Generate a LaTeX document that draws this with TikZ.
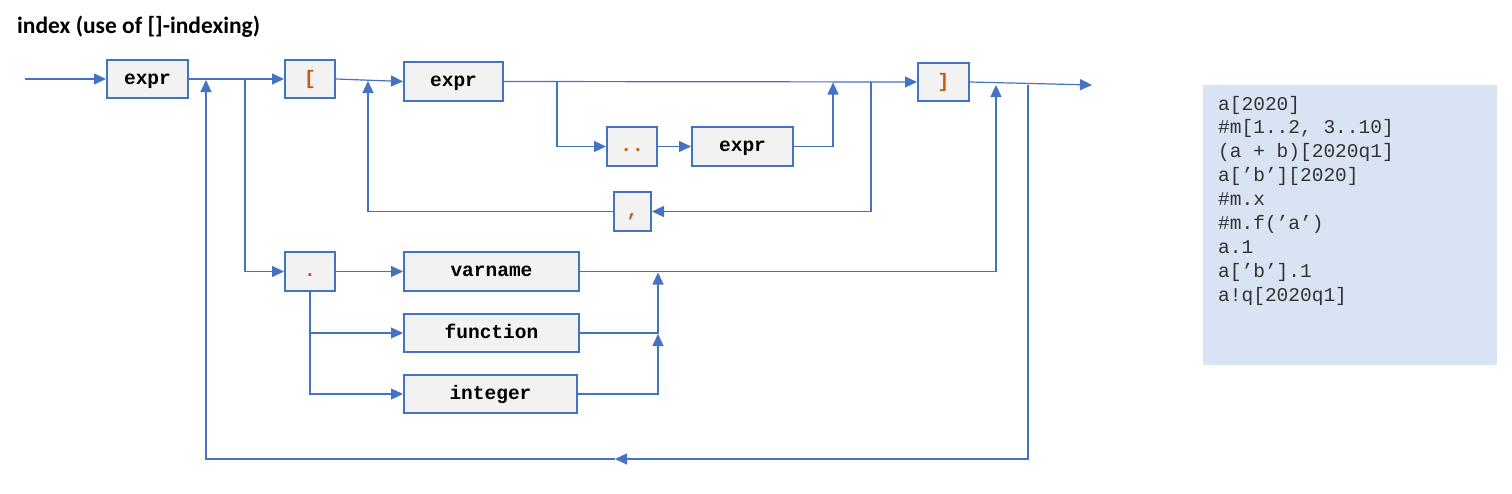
\documentclass[tikz,border=0pt]{standalone}
\usepackage{fontspec}
\setmainfont{Carlito}
\setmonofont{Liberation Mono}
\usetikzlibrary{arrows.meta}
\definecolor{lineblue}{HTML}{4472C4}
\definecolor{boxgray}{HTML}{F2F2F2}
\definecolor{tokorange}{HTML}{C55A11}
\definecolor{notefill}{HTML}{DAE3F3}

\begin{document}
\begin{tikzpicture}
			[x=1pt,y=-1pt,
			box/.style={rectangle, draw=lineblue, line width=2pt, fill=boxgray, inner sep=0pt,
				text height=13pt, text depth=3pt, font=\fontsize{19.5}{22}\selectfont\ttfamily\bfseries},
			tok/.style={box, text=tokorange},
			wire/.style={draw=lineblue, line width=1.2pt},
			flow/.style={wire, -{Triangle[length=12pt,width=11pt]}},
			sample/.style={anchor=base west, inner sep=0pt, text=black!80, font=\fontsize{19.5}{22}\selectfont\ttfamily}]
			\useasboundingbox (0,0) rectangle (1512,493);
			
			\node[anchor=base west, inner sep=0pt, font=\fontsize{23.5}{28}\selectfont\bfseries] (title) at (17,33) {index (use of []-indexing)};
			
			% boxes
			\node[box, minimum width=81pt, minimum height=38pt]  (expr1) at (147.5,79) {expr};
			\node[tok, minimum width=50pt, minimum height=38pt]  (lbrk) at (310,79) {[};
			\node[box, minimum width=99pt, minimum height=39pt]  (expr2) at (453.5,81.5) {expr};
			\node[tok, minimum width=50pt, minimum height=39pt]  (range) at (632,146.5) {..};
			\node[box, minimum width=101pt, minimum height=39pt] (expr3) at (742.5,146.5) {expr};
			\node[tok, minimum width=37pt, minimum height=39pt]  (comma) at (632.5,211.5) {,};
			\node[tok, minimum width=51pt, minimum height=38pt]  (rbrk) at (943.5,82) {]};
			\node[tok, minimum width=50pt, minimum height=39pt]  (dot) at (310,271.5) {.};
			\node[box, minimum width=175pt, minimum height=39pt] (varname) at (491.5,271.5) {varname};
			\node[box, minimum width=175pt, minimum height=38pt] (function) at (491.5,333) {function};
			\node[box, minimum width=173pt, minimum height=38pt] (integer) at (490.5,394) {integer};
			
			% junctions
			\coordinate (start) at (25,79);
			\coordinate (out) at (1092,85);
			\coordinate (loopin) at (206,80);
			\coordinate (dotfork) at (245,79);
			\coordinate (commain) at (368,81);
			\coordinate (rangefork) at (557,81.5);
			\coordinate (rangein) at (833,82.5);
			\coordinate (commafork) at (871,82);
			\coordinate (memberin) at (996,85);
			\coordinate (loopfork) at (1028,84.5);
			\coordinate (loopmid) at (615,459);
			\coordinate (funcin) at (658,272.5);
			\coordinate (intin) at (658,334);
			
			\draw[flow] (start) -- (expr1.west);
			\draw[flow] (expr1.east) -- (lbrk.west);
			\draw[flow] (lbrk.east) -- (expr2.west);
			\draw[flow] (expr2.east) -- (rbrk.west);
			\draw[flow] (rbrk.east) -- (out);
			
			\draw[flow] (rangefork) |- (range.west);
			\draw[flow] (range.east) -- (expr3.west);
			\draw[flow] (expr3.east) -| (rangein);
			\draw[flow] (commafork) |- (comma.east);
			\draw[flow] (comma.west) -| (commain);
			
			\draw[flow] (dotfork) |- (dot.west);
			\draw[flow] (dot.east) -- (varname.west);
			\draw[flow] (dot.south) |- (function.west);
			\draw[flow] (dot.south) |- (integer.west);
			\draw[flow] (function.east) -| (funcin);
			\draw[flow] (integer.east) -| (intin);
			\draw[flow] (varname.east) -| (memberin);
			
			\draw[flow] (loopfork) |- (loopmid);
			\draw[flow] (loopmid) -| (loopin);
			
			% examples
			\node[fill=notefill, inner sep=0pt, minimum width=294pt, minimum height=280pt] (notes) at (1350,225) {};
			\node[sample] (ex1) at (1218,110) {a[2020]};
			\node[sample] (ex2) at (1218,133.9) {\#m[1..2, 3..10]};
			\node[sample] (ex3) at (1218,157.8) {(a + b)[2020q1]};
			\node[sample] (ex4) at (1218,181.7) {a[’b’][2020]};
			\node[sample] (ex5) at (1218,205.6) {\#m.x};
			\node[sample] (ex6) at (1218,229.5) {\#m.f(’a’)};
			\node[sample] (ex7) at (1218,253.4) {a.1};
			\node[sample] (ex8) at (1218,277.3) {a[’b’].1};
			\node[sample] (ex9) at (1218,301.2) {a!q[2020q1]};
		\end{tikzpicture}
\end{document}
